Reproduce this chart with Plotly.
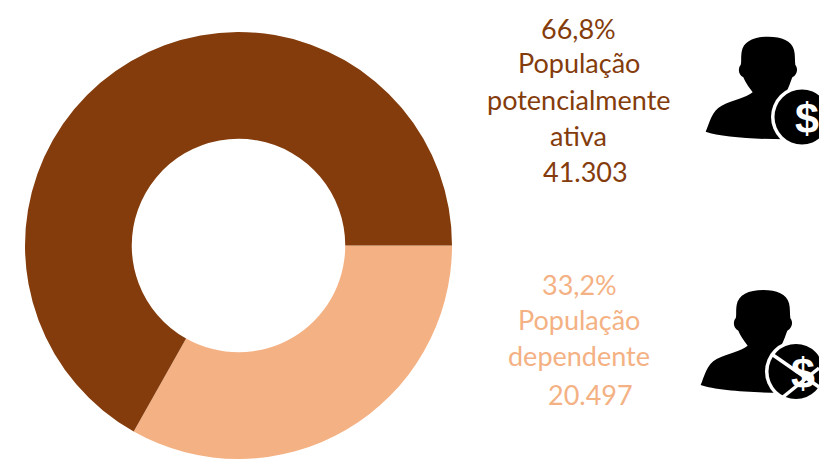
import plotly.graph_objects as go

W, H = 819, 459
categories = ["População dependente", "População potencialmente ativa"]
values = [20497, 41303]
colors = ["#F4B183", "#843C0C"]
BROWN, LIGHT = "#843C0C", "#F4B183"

lines_active = ["66,8%", "População", "potencialmente", "ativa", "41.303"]
lines_dep = ["33,2%", "População", "dependente", "20.497"]
pos_active = [(578.5, 28), (578.5, 63), (579, 99.5), (578, 135), (585, 172)]
pos_dep = [(579, 284), (579, 319.5), (579, 355.5), (590, 394)]

def X(px): return px / W
def Y(py): return 1 - py / H

fig = go.Figure(go.Pie(
    labels=categories, values=values, hole=0.5, rotation=90, sort=False,
    direction="clockwise", marker=dict(colors=colors, line=dict(width=0)),
    textinfo="none", hoverinfo="label+value+percent",
    domain=dict(x=[X(25), X(452)], y=[Y(459), Y(32)]),
))

annotations = []
for texts, pos, col in [(lines_active, pos_active, BROWN), (lines_dep, pos_dep, LIGHT)]:
    for t, (x, y) in zip(texts, pos):
        annotations.append(dict(text=t, x=X(x), y=Y(y), xref="paper", yref="paper",
                                showarrow=False, xanchor="center", yanchor="middle",
                                font=dict(family="Lato", size=27, color=col)))

# Person silhouette, in points of a 129x135 local frame x3
PERSON = [
    ("M", (235, 50)), ("C", (190, 50), (160, 65), (155, 95)), ("C", (152, 115), (155, 125), (152, 135)),
    ("C", (143, 145), (145, 165), (160, 172)), ("C", (170, 195), (180, 205), (188, 217)),
    ("C", (170, 232), (130, 240), (95, 257)), ("C", (65, 272), (58, 310), (47, 335)),
    ("C", (90, 350), (190, 358), (285, 358)), ("L", (300, 260)), ("L", (290, 215)),
    ("C", (297, 200), (302, 185), (307, 172)), ("C", (322, 165), (325, 145), (316, 135)),
    ("C", (314, 120), (316, 105), (312, 90)), ("C", (305, 62), (275, 50), (235, 50)),
]

def person_path(ox, oy, dx=0, dy=0):
    out = []
    for seg in PERSON:
        cmd, pts = seg[0], seg[1:]
        coords = " ".join(f"{X(ox + (p[0] + dx) / 3):.5f},{Y(oy + (p[1] + dy) / 3):.5f}" for p in pts)
        out.append(f"{cmd} {coords}")
    return " ".join(out) + " Z"

def circle(cx, cy, r, **kw):
    return dict(type="circle", xref="paper", yref="paper", x0=X(cx - r), x1=X(cx + r),
                y0=Y(cy + r), y1=Y(cy - r), **kw)

no_line = dict(width=0)
shapes = [
    dict(type="path", path=person_path(690, 20), xref="paper", yref="paper", fillcolor="black", line=no_line),
    circle(802, 117, 31, fillcolor="white", line=no_line),
    circle(802, 117, 27.5, fillcolor="black", line=no_line),
    dict(type="path", path=person_path(690, 280, -15, -20), xref="paper", yref="paper", fillcolor="black", line=no_line),
    circle(796, 371.5, 31, fillcolor="white", line=no_line),
    circle(796, 371.5, 27.5, fillcolor="black", line=no_line),
]
annotations.append(dict(text="<b>$</b>", x=X(806.5), y=Y(118), xref="paper", yref="paper", showarrow=False,
                        xanchor="center", yanchor="middle", font=dict(family="Liberation Sans", size=43, color="white")))
annotations.append(dict(text="<b>$</b>", x=X(803), y=Y(373), xref="paper", yref="paper", showarrow=False,
                        xanchor="center", yanchor="middle", font=dict(family="Liberation Sans", size=43, color="white")))
strike = [((773, 355), (819, 387)), ((783, 397), (819, 368))]
shapes += [dict(type="line", xref="paper", yref="paper", x0=X(a[0]), y0=Y(a[1]), x1=X(b[0]), y1=Y(b[1]),
                line=dict(color="white", width=3.5), layer="above") for a, b in strike]

fig.update_layout(width=W, height=H, margin=dict(l=0, r=0, t=0, b=0), autosize=False,
                  paper_bgcolor="white", showlegend=False,
                  annotations=annotations, shapes=shapes)
fig.write_html("out.html", config={"displayModeBar": False},
               post_script="document.body.style.margin='0';document.documentElement.style.overflow='hidden';")
